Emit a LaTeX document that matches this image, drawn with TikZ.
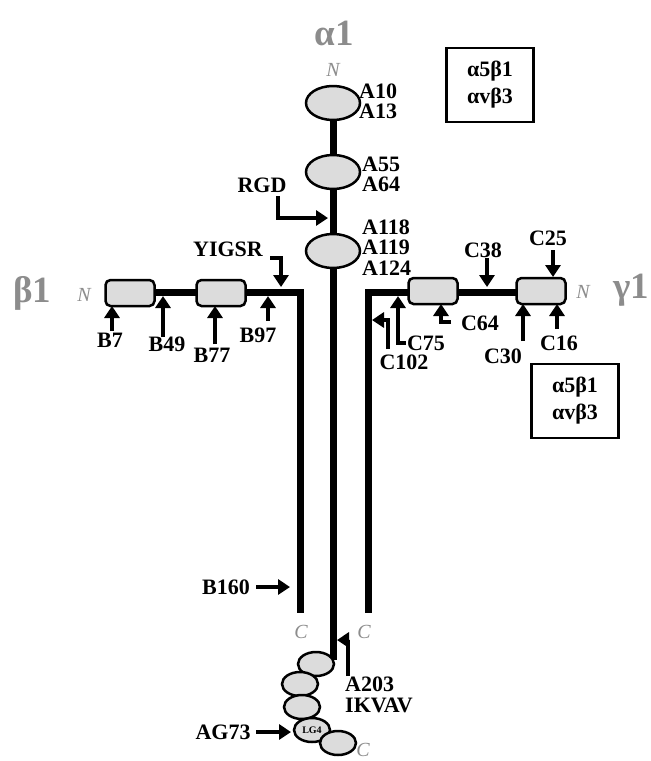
\documentclass[tikz,border=0pt]{standalone}
\usepackage{fontspec}
\setmainfont{Liberation Serif}
\usetikzlibrary{arrows.meta,shapes.geometric}
\definecolor{lblgray}{HTML}{8C8C8C}
\definecolor{domfill}{HTML}{DCDCDC}
\begin{document}
\begin{tikzpicture}[x=1pt,y=-1pt,
  chain/.style={line width=7pt,line join=miter},
  arr/.style={line width=4pt,line join=miter,-{Triangle[width=15pt,length=12pt]}},
  lbl/.style={font=\fontsize{22}{20}\selectfont\bfseries,inner sep=0pt},
  glbl/.style={font=\fontsize{37}{37}\selectfont\bfseries,text=lblgray,inner sep=0pt},
  nlbl/.style={font=\fontsize{20}{20}\selectfont\itshape,text=lblgray,inner sep=0pt},
  dom/.style={ellipse,draw,line width=2.5pt,fill=domfill,inner sep=0pt,minimum width=54pt,minimum height=34pt},
  sdom/.style={ellipse,draw,line width=2.5pt,fill=domfill,inner sep=0pt,minimum width=36pt,minimum height=24pt},
  bx/.style={draw,line width=2.5pt,fill=domfill,rounded corners=5pt,minimum width=49pt,minimum height=26pt,inner sep=0pt},
  ibox/.style={draw,line width=2.5pt,font=\fontsize{22}{27}\selectfont\bfseries,align=center,minimum width=87pt,minimum height=74pt,inner sep=0pt}
]
\useasboundingbox (0,0) rectangle (651,761);

% chain backbones
\coordinate (mtop) at (333,103);
\coordinate (mbot) at (333,660);
\coordinate (bl) at (108,292);
\coordinate (bc) at (300,292);
\coordinate (bb) at (300,613);
\coordinate (gr) at (560,292);
\coordinate (gc) at (368,292);
\coordinate (gb) at (368,613);
\draw[chain] (mtop) -- (mbot);
\draw[chain] (bl) -- (bc) -- (bb);
\draw[chain] (gr) -- (gc) -- (gb);

% alpha domains
\node[dom] (a1) at (333,103) {};
\node[dom] (a2) at (333,172) {};
\node[dom] (a3) at (333,251) {};
\node[sdom] (s1) at (316,664) {};
\node[sdom] (s2) at (300,684) {};
\node[sdom] (s3) at (302,707) {};
\node[sdom,font=\fontsize{10}{10}\selectfont\bfseries] (s4) at (312,730) {LG4};
\node[sdom] (s5) at (338,743) {};

% beta and gamma boxes
\node[bx] (b1) at (130,293) {};
\node[bx] (b2) at (221,293) {};
\node[bx] (g1) at (433,291) {};
\node[bx] (g2) at (541,291) {};

% gray labels
\node[glbl] (alpha) at (334,33) {α1};
\node[nlbl] (na) at (333,70) {N};
\node[glbl] (beta) at (32,293) {β1};
\node[nlbl] (nb) at (84,295) {N};
\node[glbl] (gamma) at (631,290) {γ1};
\node[nlbl] (ng) at (583,292) {N};
\node[nlbl] (cb) at (301,632) {C};
\node[nlbl] (cg) at (364,632) {C};
\node[nlbl] (ca) at (363,750) {C};

% alpha labels
\node[lbl,anchor=west,align=left] (l10) at (359,101) {A10\\A13};
\node[lbl,anchor=west,align=left] (l55) at (362,174) {A55\\A64};
\node[lbl,anchor=west,align=left,font=\fontsize{22}{20.5}\selectfont\bfseries] (l118) at (362,247.5) {A118\\A119\\A124};

% integrin boxes
\node[ibox] (ib1) at (490,85) {α5β1\\αvβ3};
\node[ibox] (ib2) at (575,401) {α5β1\\αvβ3};

% RGD and YIGSR
\node[lbl] (rgd) at (262,185) {RGD};
\coordinate (rgd0) at (278,196);
\coordinate (rgd1) at (278,218);
\coordinate (rgd2) at (328,218);
\draw[arr] (rgd0) -- (rgd1) -- (rgd2);
\node[lbl] (yigsr) at (228,249) {YIGSR};
\coordinate (y0) at (270,258);
\coordinate (y1) at (281,258);
\coordinate (y2) at (281,287);
\draw[arr] (y0) -- (y1) -- (y2);

% beta arrows
\node[lbl] (t7) at (110,340) {B7};
\node[lbl] (t49) at (167,344) {B49};
\node[lbl] (t77) at (212,355) {B77};
\node[lbl] (t97) at (258,335) {B97};
\coordinate (p7) at (112,331);
\coordinate (q7) at (112,306);
\coordinate (p49) at (163,337);
\coordinate (q49) at (163,296);
\coordinate (p77) at (215,344);
\coordinate (q77) at (215,306);
\coordinate (p97) at (268,321);
\coordinate (q97) at (268,296);
\draw[arr] (p7) -- (q7);
\draw[arr] (p49) -- (q49);
\draw[arr] (p77) -- (q77);
\draw[arr] (p97) -- (q97);

% gamma arrows
\node[lbl] (t25) at (548,238) {C25};
\node[lbl] (t38) at (483,250) {C38};
\node[lbl] (t64) at (480,323) {C64};
\node[lbl] (t75) at (426,343) {C75};
\node[lbl] (t102) at (404,362) {C102};
\node[lbl] (t30) at (503,356) {C30};
\node[lbl] (t16) at (559,343) {C16};
\coordinate (p25) at (553,250);
\coordinate (q25) at (553,277);
\coordinate (p38) at (487,258);
\coordinate (q38) at (487,287);
\coordinate (p64) at (451,322);
\coordinate (m64) at (441,322);
\coordinate (q64) at (441,304);
\coordinate (p75) at (406,343);
\coordinate (m75) at (398,343);
\coordinate (q75) at (398,296);
\coordinate (p102) at (388,349);
\coordinate (m102) at (388,320);
\coordinate (q102) at (372,320);
\coordinate (p30) at (523,341);
\coordinate (q30) at (523,304);
\coordinate (p16) at (557,329);
\coordinate (q16) at (557,304);
\draw[arr] (p25) -- (q25);
\draw[arr] (p38) -- (q38);
\draw[arr] (p64) -- (m64) -- (q64);
\draw[arr] (p75) -- (m75) -- (q75);
\draw[arr] (p102) -- (m102) -- (q102);
\draw[arr] (p30) -- (q30);
\draw[arr] (p16) -- (q16);

% lower arrows
\node[lbl] (t160) at (226,587) {B160};
\coordinate (p160) at (256,587);
\coordinate (q160) at (290,587);
\draw[arr] (p160) -- (q160);
\node[lbl] (tag) at (223,732) {AG73};
\coordinate (pag) at (256,732);
\coordinate (qag) at (291,732);
\draw[arr] (pag) -- (qag);
\node[lbl,anchor=west,align=left,font=\fontsize{22}{21}\selectfont\bfseries] (t203) at (345,695) {A203\\IKVAV};
\coordinate (p203) at (348,676);
\coordinate (m203) at (348,640);
\coordinate (q203) at (337,640);
\draw[arr] (p203) -- (m203) -- (q203);
\end{tikzpicture}
\end{document}
